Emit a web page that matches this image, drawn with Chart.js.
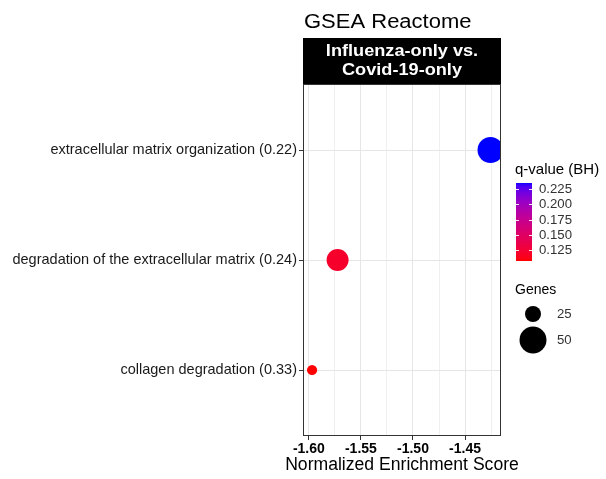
<!DOCTYPE html>
<html>
<head>
<meta charset="utf-8">
<script src="https://cdn.jsdelivr.net/npm/chart.js@4/dist/chart.umd.min.js"></script>
<style>
  html, body { margin: 0; padding: 0; background: #fff; }
  #wrap { width: 606px; height: 479px; position: relative; }
</style>
</head>
<body>
<div id="wrap"><canvas id="c" width="606" height="479"></canvas></div>
<script>
// Pathways (with leading-edge ratio) and their enrichment results
const pathways = [
  'extracellular matrix organization (0.22)',
  'degradation of the extracellular matrix (0.24)',
  'collagen degradation (0.33)'
];
const nes = [-1.4256, -1.5724, -1.5969];
const qValues = [0.235, 0.120, 0.107];
const geneCounts = [47, 37, 17];

// Axis and legend ticks
const xTickValues = [-1.60, -1.55, -1.50, -1.45];
const xMinorValues = [-1.575, -1.525, -1.475, -1.425];
const qTicks = [0.125, 0.150, 0.175, 0.200, 0.225];
const geneTicks = [25, 50];

const FONT = "'Liberation Sans', Arial, sans-serif";

// Bubble radius: area grows linearly with gene count
function geneRadius(g) {
  return Math.sqrt(Math.max(4, 64 + (g - 25) * 4.72));
}

// Red -> blue gradient interpolated in CIE Lab
function sToL(c) { c /= 255; return c <= 0.04045 ? c / 12.92 : Math.pow((c + 0.055) / 1.055, 2.4); }
function lToS(c) { const v = c <= 0.0031308 ? 12.92 * c : 1.055 * Math.pow(c, 1 / 2.4) - 0.055; return Math.round(Math.max(0, Math.min(1, v)) * 255); }
const WX = 0.95047, WY = 1.0, WZ = 1.08883;
function fLab(t) { return t > 0.008856 ? Math.cbrt(t) : 7.787 * t + 16 / 116; }
function fInv(t) { const t3 = t * t * t; return t3 > 0.008856 ? t3 : (t - 16 / 116) / 7.787; }
function rgbToLab(rgb) {
  const r = sToL(rgb[0]), g = sToL(rgb[1]), b = sToL(rgb[2]);
  const X = 0.4124564 * r + 0.3575761 * g + 0.1804375 * b;
  const Y = 0.2126729 * r + 0.7151522 * g + 0.0721750 * b;
  const Z = 0.0193339 * r + 0.1191920 * g + 0.9503041 * b;
  const fx = fLab(X / WX), fy = fLab(Y / WY), fz = fLab(Z / WZ);
  return [116 * fy - 16, 500 * (fx - fy), 200 * (fy - fz)];
}
function labToRgb(lab) {
  const fy = (lab[0] + 16) / 116, fx = fy + lab[1] / 500, fz = fy - lab[2] / 200;
  const X = fInv(fx) * WX, Y = fInv(fy) * WY, Z = fInv(fz) * WZ;
  const r = 3.2404542 * X - 1.5371385 * Y - 0.4985314 * Z;
  const g = -0.9692660 * X + 1.8760108 * Y + 0.0415560 * Z;
  const b = 0.0556434 * X - 0.2040259 * Y + 1.0572252 * Z;
  return [lToS(r), lToS(g), lToS(b)];
}
const LAB_LOW = rgbToLab([255, 0, 0]);
const LAB_HIGH = rgbToLab([0, 0, 255]);
const Q_MIN = Math.min(...qValues), Q_MAX = Math.max(...qValues);
function qColor(q) {
  const t = Math.max(0, Math.min(1, (q - Q_MIN) / (Q_MAX - Q_MIN)));
  const lab = [0, 1, 2].map(i => LAB_LOW[i] + (LAB_HIGH[i] - LAB_LOW[i]) * t);
  const c = labToRgb(lab);
  return `rgb(${c[0]},${c[1]},${c[2]})`;
}

const isMajor = v => xTickValues.some(t => Math.abs(t - v) < 1e-9);

// Text with a slight horizontal widening
function wideText(ctx, text, x, y, align, sx) {
  ctx.save();
  ctx.translate(x, y);
  ctx.scale(sx, 1);
  ctx.textAlign = align;
  ctx.fillText(text, 0, 0);
  ctx.restore();
}

// Panel border, facet strip, titles and legends
const decorations = {
  id: 'decorations',
  afterDatasetsDraw(chart) {
    const { ctx, chartArea: a } = chart;
    ctx.save();
    ctx.strokeStyle = '#333333';
    ctx.lineWidth = 1;
    ctx.strokeRect(a.left + 0.5, a.top + 0.5, a.right - a.left - 1, a.bottom - a.top - 1);
    ctx.restore();
  },
  afterDraw(chart) {
    const { ctx, chartArea: a } = chart;
    ctx.save();
    // title
    ctx.fillStyle = '#000';
    ctx.font = `20px ${FONT}`;
    ctx.textBaseline = 'alphabetic';
    wideText(ctx, 'GSEA Reactome', a.left + 1, 28, 'left', 1.1);

    // facet strip
    ctx.fillStyle = '#000';
    ctx.fillRect(a.left, 38, a.right - a.left, a.top - 38);
    ctx.fillStyle = '#fff';
    ctx.font = `bold 16.5px ${FONT}`;
    const cx = (a.left + a.right) / 2;
    wideText(ctx, 'Influenza-only vs.', cx, 56, 'center', 1.1);
    wideText(ctx, 'Covid-19-only', cx, 75, 'center', 1.1);

    // x axis title
    ctx.fillStyle = '#000';
    ctx.font = `17.6px ${FONT}`;
    ctx.textBaseline = 'middle';
    wideText(ctx, 'Normalized Enrichment Score', cx, 465, 'center', 1.0);

    // colour bar legend
    const lx = 516;
    ctx.textBaseline = 'middle';
    ctx.textAlign = 'left';
    ctx.fillStyle = '#000';
    ctx.font = `15px ${FONT}`;
    ctx.fillText('q-value (BH)', lx - 1, 170);
    const barTop = 183, barBottom = 261, barW = 16;
    const qToY = q => barBottom - (q - Q_MIN) / (Q_MAX - Q_MIN) * (barBottom - barTop);
    for (let y = barTop; y < barBottom; y++) {
      const q = Q_MIN + (barBottom - (y + 0.5)) / (barBottom - barTop) * (Q_MAX - Q_MIN);
      ctx.fillStyle = qColor(q);
      ctx.fillRect(lx, y, barW, 1);
    }
    ctx.font = `13.2px ${FONT}`;
    qTicks.forEach(q => {
      const y = Math.round(qToY(q)) + 0.5;
      ctx.strokeStyle = 'rgba(255,255,255,0.9)';
      ctx.lineWidth = 1;
      ctx.beginPath();
      ctx.moveTo(lx, y); ctx.lineTo(lx + 3, y);
      ctx.moveTo(lx + barW - 3, y); ctx.lineTo(lx + barW, y);
      ctx.stroke();
      ctx.fillStyle = '#333333';
      ctx.fillText(q.toFixed(3), lx + 23, y);
    });

    // gene count legend
    ctx.fillStyle = '#000';
    ctx.font = `14px ${FONT}`;
    ctx.fillText('Genes', lx - 1, 290);
    const gy = [314, 340];
    geneTicks.forEach((g, i) => {
      ctx.fillStyle = '#000';
      ctx.beginPath();
      ctx.arc(533, gy[i], geneRadius(g), 0, Math.PI * 2);
      ctx.fill();
      ctx.fillStyle = '#333333';
      ctx.font = `13.2px ${FONT}`;
      ctx.fillText(String(g), 557, gy[i]);
    });
    ctx.restore();
  }
};

new Chart(document.getElementById('c'), {
  type: 'scatter',
  data: {
    datasets: [{
      data: pathways.map((p, i) => ({ x: nes[i], y: i })),
      pointRadius: ctx => geneRadius(geneCounts[ctx.dataIndex]),
      pointHoverRadius: ctx => geneRadius(geneCounts[ctx.dataIndex]),
      backgroundColor: ctx => qColor(qValues[ctx.dataIndex]),
      borderWidth: 0,
      clip: 0
    }]
  },
  options: {
    responsive: false,
    animation: false,
    devicePixelRatio: 1,
    layout: { padding: { left: 0, top: 84, right: 105, bottom: 0 } },
    plugins: { legend: { display: false }, tooltip: { enabled: false }, title: { display: false } },
    scales: {
      x: {
        type: 'linear',
        min: -1.6056,
        max: -1.4155,
        afterBuildTicks: s => {
          s.ticks = [...xTickValues, ...xMinorValues].sort((p, q) => p - q).map(v => ({ value: v }));
        },
        afterFit: s => { s.height = 43; },
        border: { display: false },
        grid: {
          color: '#E6E6E6',
          lineWidth: c => (c.tick && isMajor(c.tick.value)) ? 1 : 0.6,
          tickColor: c => (c.tick && isMajor(c.tick.value)) ? '#333333' : 'rgba(0,0,0,0)',
          tickLength: 4,
          drawTicks: true
        },
        ticks: {
          autoSkip: false,
          maxRotation: 0,
          padding: 1,
          color: '#000',
          font: { family: FONT, size: 14, weight: 'bold' },
          callback: v => isMajor(v) ? v.toFixed(2) : ''
        },
        title: { display: false }
      },
      y: {
        type: 'linear',
        reverse: true,
        min: -0.6,
        max: 2.6,
        afterBuildTicks: s => { s.ticks = pathways.map((p, i) => ({ value: i })); },
        afterFit: s => { s.width = 303; },
        border: { display: false },
        grid: { color: '#E6E6E6', lineWidth: 1, tickColor: '#333333', tickLength: 4 },
        ticks: {
          autoSkip: false,
          padding: 2,
          color: '#1a1a1a',
          font: { family: FONT, size: 14.5 },
          callback: v => pathways[v] ?? ''
        }
      }
    }
  },
  plugins: [decorations]
});
</script>
</body>
</html>
